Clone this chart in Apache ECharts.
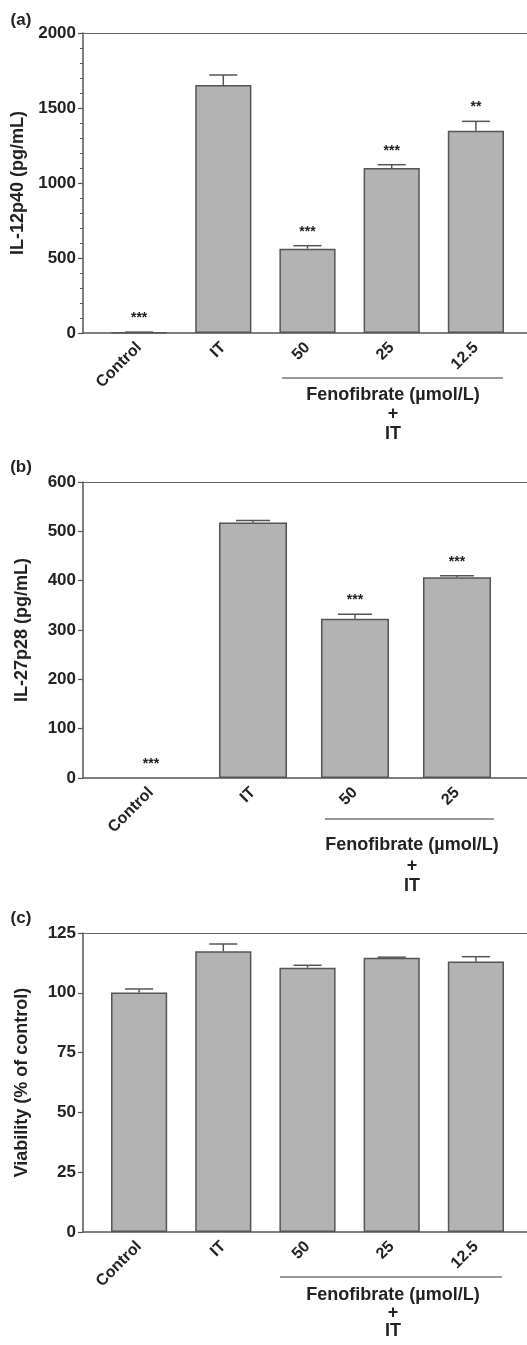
<!DOCTYPE html>
<html>
<head>
    <meta charset="UTF-8">
    <title>Fenofibrate</title>
    <style>
        html,body{margin:0;padding:0;background:#fff;}
        #chart{width:527px;height:1345px;}
    </style>
</head>
<body>
<div id="chart"></div>
<script src="https://cdn.jsdelivr.net/npm/echarts@6/dist/echarts.min.js"></script>
<script>
    // data
    const catsA = ['Control', 'IT', '50', '25', '12.5'];
    const meanA = [4, 1653, 562, 1100, 1349];
    const errA = [2, 67, 20, 22, 62];
    const starsA = ['***', '', '***', '***', '**'];
    const ticksA = [0, 2000, 500];

    const catsB = ['Control', 'IT', '50', '25'];
    const meanB = [0, 518, 323, 407];
    const errB = [0, 4, 9, 3];
    const starsB = ['***', '', '***', '***'];
    const ticksB = [0, 600, 100];

    const catsC = ['Control', 'IT', '50', '25', '12.5'];
    const meanC = [100.1, 117.4, 110.5, 114.7, 113.1];
    const errC = [1.5, 3.0, 1.0, 0.2, 2.0];
    const starsC = ['', '', '', '', ''];
    const ticksC = [0, 125, 25];

    const font = "'Liberation Sans', Arial, sans-serif";
    const dark = '#555';

    // panel layout: frame grid (axes) + bar grid (categories)
    const panels = [
        {cats: catsA, mean: meanA, err: errA, stars: starsA, ticks: ticksA, name: 'IL-12p40 (pg/mL)',
            top: 33, height: 300, barLeft: 97, barWidth: 421, minor: true},
        {cats: catsB, mean: meanB, err: errB, stars: starsB, ticks: ticksB, name: 'IL-27p28 (pg/mL)',
            top: 482, height: 296, barLeft: 100, barWidth: 408, minor: false},
        {cats: catsC, mean: meanC, err: errC, stars: starsC, ticks: ticksC, name: 'Viability (% of control)',
            top: 933, height: 299, barLeft: 97, barWidth: 421, minor: false}
    ];

    let grid = [], xAxis = [], yAxis = [], series = [];

    panels.forEach(function (p, k) {
        grid.push({left: 83, top: p.top, width: 444, height: p.height});
        grid.push({left: p.barLeft, top: p.top, width: p.barWidth, height: p.height});

        // frame: bottom and top lines
        xAxis.push({type: 'value', gridIndex: 2 * k, min: 0, max: 1, position: 'bottom',
            axisLine: {show: true, lineStyle: {color: dark, width: 1.5}},
            axisTick: {show: false}, axisLabel: {show: false}, splitLine: {show: false}});
        xAxis.push({type: 'value', gridIndex: 2 * k, min: 0, max: 1, position: 'top',
            axisLine: {show: true, lineStyle: {color: '#666', width: 1.2}},
            axisTick: {show: false}, axisLabel: {show: false}, splitLine: {show: false}});
        xAxis.push({type: 'category', gridIndex: 2 * k + 1, data: p.cats,
            axisLine: {show: false}, axisTick: {show: false}, splitLine: {show: false},
            axisLabel: {rotate: 45, margin: 12, interval: 0, color: '#222', fontSize: 16,
                fontWeight: 'bold', fontFamily: font}});

        yAxis.push({type: 'value', gridIndex: 2 * k, min: p.ticks[0], max: p.ticks[1], interval: p.ticks[2],
            name: p.name, nameLocation: 'middle', nameGap: 52,
            nameTextStyle: {fontSize: 18, fontWeight: 'bold', color: '#222', fontFamily: font},
            axisLine: {show: true, lineStyle: {color: dark, width: 1.5}},
            axisTick: {show: true, length: 5, lineStyle: {color: dark, width: 1.2}},
            minorTick: {show: p.minor, splitNumber: 5, length: 3, lineStyle: {color: dark}},
            axisLabel: {margin: 7, color: '#222', fontSize: 17, fontWeight: 'bold', fontFamily: font,
                formatter: function (v) { return String(v); }},
            splitLine: {show: false}});
        yAxis.push({type: 'value', gridIndex: 2 * k + 1, min: p.ticks[0], max: p.ticks[1], show: false});

        series.push({
            type: 'bar', xAxisIndex: 3 * k + 2, yAxisIndex: 2 * k + 1,
            data: p.mean.map(function (m) {
                return m > 0 ? m : {value: m, itemStyle: {borderWidth: 0}};
            }),
            barWidth: '66.7%',
            itemStyle: {color: '#b3b3b3', borderColor: dark, borderWidth: 1.5},
            silent: true
        });

        series.push({
            type: 'custom', xAxisIndex: 3 * k + 2, yAxisIndex: 2 * k + 1,
            data: p.mean.map(function (m, i) { return [i, m, p.err[i]]; }),
            silent: true, z: 5,
            renderItem: function (params, api) {
                let i = api.value(0);
                let base = api.coord([i, api.value(1)]);
                let cap = api.coord([i, api.value(1) + api.value(2)]);
                let half = api.size([1, 0])[0] * 0.667 * 0.25;
                let children = [];
                if (api.value(2) > 0) {
                    children.push({type: 'line', shape: {x1: base[0], y1: base[1], x2: cap[0], y2: cap[1]},
                        style: {stroke: dark, lineWidth: 1.5}});
                    children.push({type: 'line', shape: {x1: cap[0] - half, y1: cap[1], x2: cap[0] + half, y2: cap[1]},
                        style: {stroke: dark, lineWidth: 1.5}});
                }
                let s = p.stars[params.dataIndex];
                if (s) {
                    children.push({type: 'text', x: cap[0], y: cap[1] - 7,
                        style: {text: s, fill: '#222', font: 'bold 14px ' + font, textAlign: 'center', textVerticalAlign: 'bottom'}});
                }
                return {type: 'group', children: children};
            }
        });
    });

    function txt(x, y, s, size) {
        return {type: 'text', x: x, y: y,
            style: {text: s, fill: '#222', font: 'bold ' + size + 'px ' + font, textAlign: 'center', textVerticalAlign: 'middle'}};
    }
    function rule(x1, x2, y) {
        return {type: 'line', shape: {x1: x1, y1: y, x2: x2, y2: y}, style: {stroke: '#333', lineWidth: 1.2}};
    }

    let graphic = [
        txt(21, 20, '(a)', 17), txt(21, 467, '(b)', 17), txt(21, 918, '(c)', 17),
        rule(282, 503, 378), txt(393, 395, 'Fenofibrate (µmol/L)', 18), txt(393, 414, '+', 18), txt(393, 434, 'IT', 18),
        rule(325, 494, 819), txt(412, 845, 'Fenofibrate (µmol/L)', 18), txt(412, 866, '+', 18), txt(412, 886, 'IT', 18),
        rule(280, 502, 1277), txt(393, 1295, 'Fenofibrate (µmol/L)', 18), txt(393, 1313, '+', 18), txt(393, 1331, 'IT', 18)
    ];

    let myChart = echarts.init(document.getElementById('chart'));
    myChart.setOption({
        animation: false,
        grid: grid,
        xAxis: xAxis,
        yAxis: yAxis,
        series: series,
        graphic: graphic
    });
</script>
</body>
</html>
